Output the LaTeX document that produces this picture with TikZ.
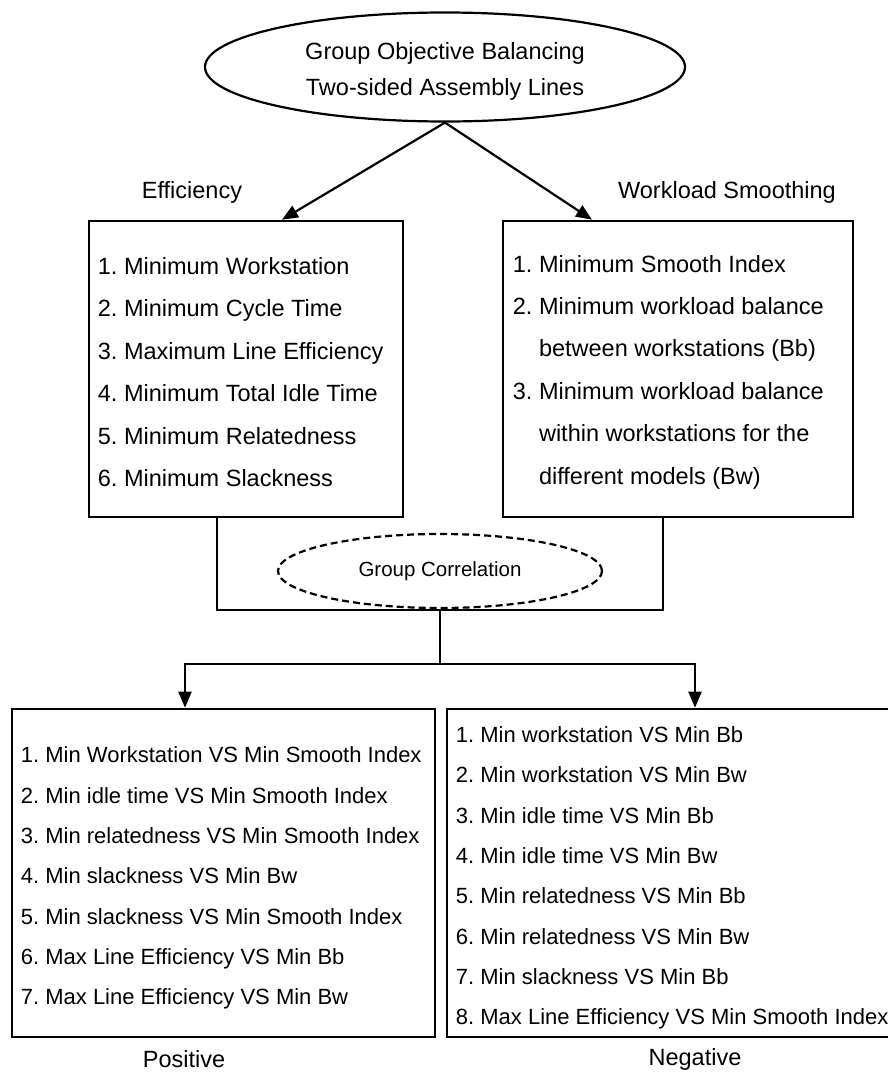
\documentclass[tikz,border=0pt]{standalone}
\usepackage{fontspec}
\setmainfont{Liberation Sans}
\usetikzlibrary{arrows.meta,shapes.geometric}
\tikzset{
  goal/.style={draw, ellipse, line width=2.2pt, minimum width=480pt, minimum height=109pt, inner sep=0pt},
  goaltext/.style={inner sep=0pt, align=center, font=\fontsize{23.5}{36}\selectfont},
  corr/.style={draw, ellipse, line width=2.2pt, dash pattern=on 7pt off 4pt, minimum width=324pt, minimum height=74pt, inner sep=0pt, font=\fontsize{20.5}{24}\selectfont},
  box/.style={draw, line width=2.6pt, inner sep=0pt},
  upperlist/.style={anchor=west, inner sep=0pt, yshift=-3pt, align=left, font=\fontsize{23.5}{42.4}\selectfont},
  lowerlist/.style={anchor=west, inner sep=0pt, yshift=-5pt, align=left, font=\fontsize{22}{40.3}\selectfont},
  tag/.style={inner sep=0pt, font=\fontsize{23.5}{28}\selectfont},
  link/.style={line width=2.2pt},
  arr/.style={link, -{Triangle[length=16pt,width=13pt]}},
}

\begin{document}
\frenchspacing
\begin{tikzpicture}[x=1pt,y=-1pt]
  \useasboundingbox (0,0) rectangle (888,1073);
  \clip (0,0) rectangle (888,1073);
  \node[goal] (goal) at (445,67) {};
  \node[goaltext] (goaltxt) at (445,71) {Group Objective Balancing\\Two-sided Assembly Lines};
  \node[tag] (efftag) at (192,192) {Efficiency};
  \node[tag] (smotag) at (727,192) {Workload Smoothing};
  \node[box, minimum width=314pt, minimum height=296pt] (eff) at (246,369) {};
  \node[upperlist] (efflist) at ([xshift=10pt]eff.west)
    {1. Minimum Workstation\\2. Minimum Cycle Time\\3. Maximum Line Efficiency\\4. Minimum Total Idle Time\\5. Minimum Relatedness\\6. Minimum Slackness};
  \node[box, minimum width=350pt, minimum height=296pt] (smo) at (678,369) {};
  \node[upperlist] (smolist) at ([xshift=11pt]smo.west)
    {1. Minimum Smooth Index\\2. Minimum workload balance\\\phantom{2. }between workstations (Bb)\\3. Minimum workload balance\\\phantom{3. }within workstations for the\\\phantom{3. }different models (Bw)};
  \node[corr] (gcorr) at (440,571) {\raisebox{-2pt}{Group Correlation}};
  \node[box, minimum width=423pt, minimum height=328pt] (pos) at (223.5,873) {};
  \node[lowerlist] (poslist) at ([xshift=10pt]pos.west)
    {1. Min Workstation VS Min Smooth Index\\2. Min idle time VS Min Smooth Index\\3. Min relatedness VS Min Smooth Index\\4. Min slackness VS Min Bw\\5. Min slackness VS Min Smooth Index\\6. Max Line Efficiency VS Min Bb\\7. Max Line Efficiency VS Min Bw};
  \node[box, minimum width=453pt, minimum height=328pt] (neg) at (673.5,873) {};
  \node[lowerlist] (neglist) at ([xshift=10pt]neg.west)
    {1. Min workstation VS Min Bb\\2. Min workstation VS Min Bw\\3. Min idle time VS Min Bb\\4. Min idle time VS Min Bw\\5. Min relatedness VS Min Bb\\6. Min relatedness VS Min Bw\\7. Min slackness VS Min Bb\\8. Max Line Efficiency VS Min Smooth Index};
  \node[tag] (postag) at (184,1059) {Positive};
  \node[tag] (negtag) at (695,1059) {Negative};
  \coordinate (join) at (440,610);
  \coordinate (split) at (440,664);
  \draw[arr] (goal.south) -- ([xshift=36pt]eff.north);
  \draw[arr] (goal.south) -- ([xshift=-86pt]smo.north);
  \draw[link] ([xshift=-29pt]eff.south) |- (join) -| ([xshift=-15pt]smo.south);
  \draw[link] (join) -- (split);
  \draw[arr] (split) -| ([xshift=-38.5pt]pos.north);
  \draw[arr] (split) -| ([xshift=21.5pt]neg.north);
\end{tikzpicture}
\end{document}
